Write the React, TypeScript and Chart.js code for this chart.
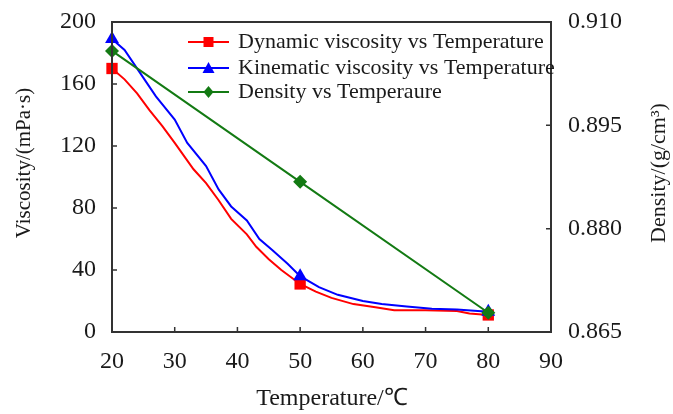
import React, { useEffect, useRef } from "react";
import { Chart, registerables } from "chart.js";

Chart.register(...registerables);

const dynTemps = [20, 22, 24, 26, 28, 30, 33, 35, 37, 39, 41.5, 43, 45, 47, 50, 52.5, 55, 58.5, 62, 65, 70, 75, 77, 80];
const dynVisc = [170, 163, 154, 143, 133, 122, 105, 96, 85, 73, 63, 55, 47, 40, 31, 26, 22, 18, 16, 14, 14, 13.5, 12, 11];

const kinTemps = [20, 22, 24.5, 27, 30, 32, 35, 37, 39, 41.5, 43.5, 45.5, 48, 50, 53, 56, 60, 63, 67, 71, 75, 80];
const kinVisc = [189, 182, 167, 152, 137, 122, 107, 92, 81, 72, 60, 53, 44, 36, 29, 24, 20, 18, 16.5, 15, 14.5, 13];

const densTemps = [20, 50, 80];
const densVals = [0.9058, 0.8868, 0.8678];

const markerTemps = [20, 50, 80];

const xTicks = [20, 30, 40, 50, 60, 70, 80, 90];
const yTicks = [0, 40, 80, 120, 160, 200];
const y2Ticks = [0.865, 0.88, 0.895, 0.91];

const labels = [
  "Dynamic viscosity vs Temperature",
  "Kinematic viscosity vs Temperature",
  "Density vs Temperaure",
];

const xTitle = "Temperature/℃";
const yTitle = "Viscosity/(mPa·s)";
const y2Title = "Density/(g/cm³)";

const FONT = "'Liberation Serif', 'Times New Roman', serif";
const TEXT = "#1a1a1a";

const toPts = (xs: number[], ys: number[]) => xs.map((x, i) => ({ x, y: ys[i] }));

const markerRadius = (r: number) => (ctx: any) => {
  const raw = ctx.raw;
  return raw && markerTemps.includes(raw.x) ? r : 0;
};

const framePlugin = {
  id: "frame",
  afterDatasetsDraw(chart: any) {
    const { ctx, chartArea: a, scales } = chart;
    ctx.save();
    ctx.strokeStyle = "#333";
    ctx.lineWidth = 2;
    ctx.strokeRect(a.left, a.top, a.right - a.left, a.bottom - a.top);
    ctx.lineWidth = 1.5;
    const tl = 5;
    ctx.beginPath();
    for (const v of xTicks) {
      const px = scales.x.getPixelForValue(v);
      ctx.moveTo(px, a.bottom);
      ctx.lineTo(px, a.bottom - tl);
    }
    for (const v of yTicks) {
      const py = scales.y.getPixelForValue(v);
      ctx.moveTo(a.left, py);
      ctx.lineTo(a.left + tl, py);
    }
    for (const v of y2Ticks) {
      const py = scales.y2.getPixelForValue(v);
      ctx.moveTo(a.right, py);
      ctx.lineTo(a.right - tl, py);
    }
    ctx.stroke();

    // axis titles
    ctx.fillStyle = TEXT;
    ctx.textAlign = "center";
    ctx.textBaseline = "middle";
    ctx.font = `24px ${FONT}`;
    ctx.fillText(xTitle, 332, 399);
    ctx.font = `21px ${FONT}`;
    ctx.save();
    ctx.translate(24, 163);
    ctx.rotate(-Math.PI / 2);
    ctx.fillText(yTitle, 0, 0);
    ctx.restore();
    ctx.font = `22px ${FONT}`;
    ctx.save();
    ctx.translate(659, 173);
    ctx.rotate(-Math.PI / 2);
    ctx.fillText(y2Title, 0, 0);
    ctx.restore();

    // legend
    const rows = [42, 68, 92];
    const x0 = 188;
    const x1 = 229;
    chart.data.datasets.forEach((ds: any, i: number) => {
      const y = rows[i];
      ctx.strokeStyle = ds.borderColor;
      ctx.lineWidth = 2;
      ctx.beginPath();
      ctx.moveTo(x0, y);
      ctx.lineTo(x1, y);
      ctx.stroke();
      ctx.fillStyle = ds.backgroundColor;
      const cx = (x0 + x1) / 2;
      const r = 5;
      ctx.beginPath();
      if (ds.pointStyle === "rect") {
        ctx.rect(cx - r, y - r, 2 * r, 2 * r);
      } else if (ds.pointStyle === "triangle") {
        ctx.moveTo(cx, y - r - 1);
        ctx.lineTo(cx + r + 1, y + r);
        ctx.lineTo(cx - r - 1, y + r);
        ctx.closePath();
      } else {
        ctx.moveTo(cx, y - r - 1);
        ctx.lineTo(cx + r, y);
        ctx.lineTo(cx, y + r + 1);
        ctx.lineTo(cx - r, y);
        ctx.closePath();
      }
      ctx.fill();
      ctx.fillStyle = TEXT;
      ctx.font = `22px ${FONT}`;
      ctx.textBaseline = "middle";
      ctx.textAlign = "left";
      ctx.fillText(ds.label, 238, y);
    });
    ctx.restore();
  },
};

export default function App() {
  const ref = useRef<HTMLCanvasElement | null>(null);
  useEffect(() => {
    document.body.style.margin = "0";
    const canvas = ref.current!;
    const tickFont = { family: FONT, size: 24 };
    const chart = new Chart(canvas, {
      type: "line",
      data: {
        datasets: [
          {
            label: labels[0],
            data: toPts(dynTemps, dynVisc),
            borderColor: "#ff0000",
            backgroundColor: "#ff0000",
            borderWidth: 2,
            pointStyle: "rect",
            pointRadius: markerRadius(8),
            pointBorderWidth: 0,
            yAxisID: "y",
            tension: 0,
            clip: false,
            order: 2,
          },
          {
            label: labels[1],
            data: toPts(kinTemps, kinVisc),
            borderColor: "#0000ff",
            backgroundColor: "#0000ff",
            borderWidth: 2,
            pointStyle: "triangle",
            pointRadius: markerRadius(8),
            pointBorderWidth: 0,
            yAxisID: "y",
            tension: 0,
            clip: false,
            order: 1,
          },
          {
            label: labels[2],
            data: toPts(densTemps, densVals),
            borderColor: "#137a13",
            backgroundColor: "#137a13",
            borderWidth: 2,
            pointStyle: "rectRot",
            pointRadius: markerRadius(7),
            pointBorderWidth: 0,
            yAxisID: "y2",
            tension: 0,
            clip: false,
            order: 0,
          },
        ],
      },
      options: {
        animation: false,
        responsive: false,
        layout: { padding: { top: 22, left: 0, right: 0, bottom: 0 } },
        plugins: { legend: { display: false }, tooltip: { enabled: false } },
        scales: {
          x: {
            type: "linear",
            min: 20,
            max: 90,
            afterBuildTicks: (s: any) => {
              s.ticks = xTicks.map((v) => ({ value: v }));
            },
            afterFit: (s: any) => {
              s.height = 82;
            },
            grid: { display: false, drawTicks: false },
            border: { display: false },
            ticks: { color: TEXT, font: tickFont, padding: 15, maxRotation: 0 },
          },
          y: {
            type: "linear",
            position: "left",
            min: 0,
            max: 200,
            afterBuildTicks: (s: any) => {
              s.ticks = yTicks.map((v) => ({ value: v }));
            },
            afterFit: (s: any) => {
              s.width = 112;
              s.paddingTop = 0;
            },
            grid: { display: false, drawTicks: false },
            border: { display: false },
            ticks: { color: TEXT, font: tickFont, padding: 16 },
          },
          y2: {
            type: "linear",
            position: "right",
            min: 0.865,
            max: 0.91,
            afterBuildTicks: (s: any) => {
              s.ticks = y2Ticks.map((v) => ({ value: v }));
            },
            afterFit: (s: any) => {
              s.width = 122;
              s.paddingTop = 0;
            },
            grid: { display: false, drawTicks: false },
            border: { display: false },
            ticks: {
              color: TEXT,
              font: tickFont,
              padding: 17,
              callback: (v: any) => Number(v).toFixed(3),
            },
          },
        },
      },
      plugins: [framePlugin],
    } as any);
    return () => chart.destroy();
  }, []);
  return (
    <div style={{ width: 673, height: 414, background: "#fff" }}>
      <canvas ref={ref} width={673} height={414} style={{ display: "block" }} />
    </div>
  );
}
